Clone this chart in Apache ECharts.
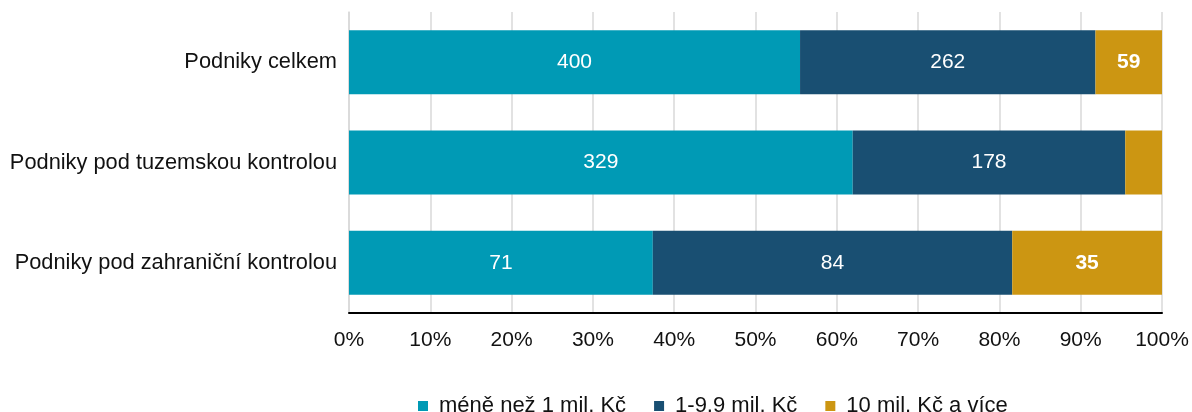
<!DOCTYPE html>
<html><head><meta charset="utf-8">
<script src="https://cdn.jsdelivr.net/npm/echarts@6/dist/echarts.min.js"></script>
<style>html,body{margin:0;padding:0;background:#fff}#c{width:1192px;height:412px}</style>
</head><body><div id="c"></div>
<script>
const categories = ['Podniky celkem', 'Podniky pod tuzemskou kontrolou', 'Podniky pod zahraniční kontrolou'];
const seriesNames = ['méně než 1 mil. Kč', '1-9,9 mil. Kč', '10 mil. Kč a více'];
const small = [400, 329, 71];
const mid = [262, 178, 84];
const large = [59, 24, 35];

const colors = ['#009ab5', '#194f72', '#cc9612'];
const raw = [small, mid, large];
const totals = categories.map((_, i) => small[i] + mid[i] + large[i]);

const series = raw.map((vals, s) => ({
  name: seriesNames[s],
  type: 'bar',
  stack: 'total',
  barWidth: 64,
  itemStyle: { color: colors[s] },
  data: vals.map((v, i) => {
    const pct = v / totals[i] * 100;
    return { value: pct, raw: v, label: { show: pct > 6 } };
  }),
  label: {
    show: true,
    position: 'inside',
    color: '#fff',
    fontSize: 21,
    fontFamily: 'Liberation Sans',
    fontWeight: s === 2 ? 'bold' : 'normal',
    formatter: p => p.data.raw
  }
}));

const chart = echarts.init(document.getElementById('c'));
chart.setOption({
  animation: false,
  textStyle: { fontFamily: 'Liberation Sans' },
  grid: { left: 349, right: 30, top: 12, bottom: 99, containLabel: false },
  legend: {
    top: 390,
    left: 413,
    itemWidth: 10, itemHeight: 10, itemGap: 28,
    icon: 'rect',
    textStyle: { fontSize: 22, color: '#111', fontFamily: 'Liberation Sans', padding: [0, 0, 0, 6] },
    data: seriesNames
  },
  xAxis: {
    type: 'value', min: 0, max: 100, interval: 10,
    axisLine: { show: true, lineStyle: { color: '#000', width: 2 } },
    axisTick: { show: false },
    axisLabel: { fontSize: 21, color: '#111', margin: 17, formatter: '{value}%' },
    splitLine: { show: true, lineStyle: { color: '#d9d9d9', width: 1.5 } }
  },
  yAxis: {
    type: 'category', data: categories, inverse: true,
    axisLine: { show: true, onZero: false, lineStyle: { color: '#d9d9d9', width: 1.5 } },
    axisTick: { show: false },
    axisLabel: { fontSize: 21.8, color: '#111', margin: 12 }
  },
  series: series
});
</script>
</body></html>
